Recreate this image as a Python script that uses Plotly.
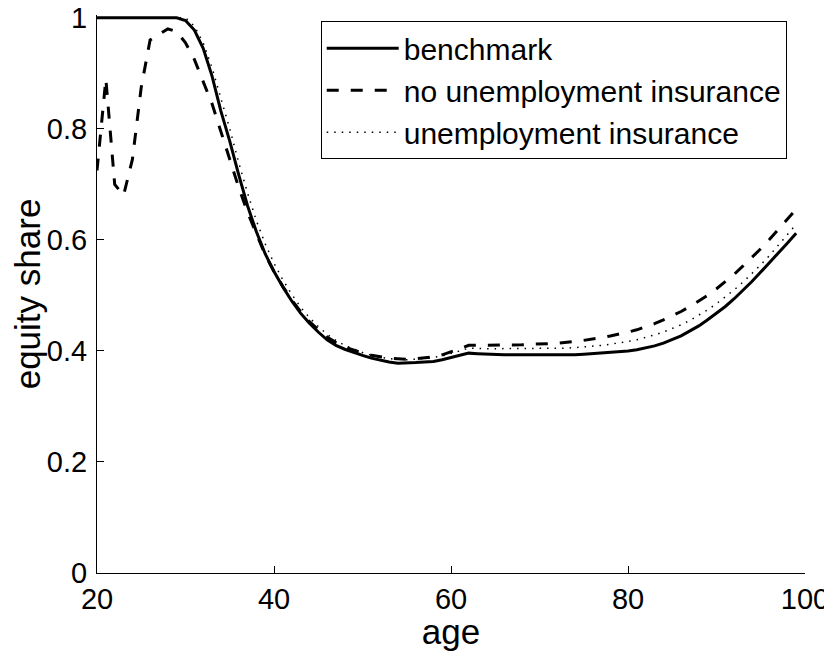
import plotly.graph_objects as go

ages = list(range(20, 100))

benchmark = [1.0, 1.0, 1.0, 1.0, 1.0, 1.0, 1.0, 1.0, 1.0, 1.0,
             0.995, 0.978, 0.945, 0.895, 0.832, 0.778, 0.718, 0.662, 0.615, 0.575,
             0.543, 0.515, 0.49, 0.468, 0.45, 0.434, 0.42, 0.41, 0.403, 0.397,
             0.392, 0.387, 0.383, 0.38, 0.378, 0.378, 0.379, 0.38, 0.381, 0.384,
             0.388, 0.392, 0.396, 0.395, 0.394, 0.394, 0.393, 0.393, 0.393, 0.392,
             0.392, 0.392, 0.392, 0.393, 0.393, 0.394, 0.395, 0.396, 0.397, 0.398,
             0.4, 0.402, 0.405, 0.409, 0.414, 0.42, 0.427, 0.436, 0.445, 0.456,
             0.468, 0.48, 0.494, 0.509, 0.525, 0.542, 0.559, 0.576, 0.594, 0.612]

no_ui = [0.725, 0.89, 0.70, 0.68, 0.745, 0.875, 0.96, 0.97, 0.98, 0.975,
         0.955, 0.925, 0.885, 0.845, 0.795, 0.745, 0.695, 0.65, 0.61, 0.573,
         0.543, 0.516, 0.492, 0.471, 0.453, 0.438, 0.425, 0.415, 0.407, 0.401,
         0.396, 0.392, 0.389, 0.387, 0.386, 0.385, 0.386, 0.387, 0.389, 0.393,
         0.398, 0.404, 0.41, 0.41, 0.41, 0.41, 0.41, 0.411, 0.411, 0.412,
         0.412, 0.413, 0.414, 0.415, 0.417, 0.419, 0.421, 0.424, 0.427, 0.43,
         0.434, 0.438, 0.443, 0.449, 0.456, 0.463, 0.471, 0.48, 0.49, 0.5,
         0.512, 0.525, 0.538, 0.553, 0.568, 0.584, 0.601, 0.619, 0.637, 0.655]

ui = [1.0, 1.0, 1.0, 1.0, 1.0, 1.0, 1.0, 1.0, 1.0, 1.0,
      1.0, 0.985, 0.955, 0.91, 0.855, 0.8, 0.74, 0.685, 0.635, 0.593,
      0.558, 0.528, 0.502, 0.479, 0.46, 0.444, 0.43, 0.419, 0.41, 0.403,
      0.397, 0.392, 0.389, 0.386, 0.385, 0.384, 0.385, 0.386, 0.388, 0.391,
      0.395, 0.4, 0.405, 0.404, 0.404, 0.404, 0.404, 0.404, 0.404, 0.404,
      0.404, 0.404, 0.404, 0.405, 0.406, 0.407, 0.408, 0.41, 0.412, 0.414,
      0.417, 0.42, 0.424, 0.429, 0.434, 0.44, 0.447, 0.455, 0.464, 0.474,
      0.485, 0.497, 0.51, 0.524, 0.539, 0.555, 0.572, 0.59, 0.609, 0.628]

names = ["benchmark", "no unemployment insurance", "unemployment insurance"]
x_ticks = [20, 40, 60, 80, 100]
y_ticks = [0, 0.2, 0.4, 0.6, 0.8, 1]
y_tick_text = ["0", "0.2", "0.4", "0.6", "0.8", "1"]

FONT = "Liberation Sans, Arial, Helvetica, sans-serif"
FS = 29

fig = go.Figure()
fig.add_trace(go.Scatter(x=ages, y=benchmark, mode="lines", name=names[0],
                         line=dict(color="black", width=3)))
fig.add_trace(go.Scatter(x=ages, y=no_ui, mode="lines", name=names[1],
                         line=dict(color="black", width=3, dash="12px,12px")))
fig.add_trace(go.Scatter(x=ages, y=ui, mode="lines", name=names[2],
                         line=dict(color="black", width=1.5, dash="1.5px,6px")))

fig.update_layout(
    width=824, height=643,
    margin=dict(l=89, r=27, t=7, b=78, autoexpand=False),
    paper_bgcolor="white", plot_bgcolor="white",
    font=dict(family=FONT, size=FS, color="black"),
    showlegend=True,
    legend=dict(x=0.316, y=0.989, xanchor="left", yanchor="top",
                bordercolor="black", borderwidth=1, bgcolor="white",
                font=dict(family=FONT, size=30, color="black"),
                itemwidth=72, tracegroupgap=0),
    xaxis=dict(range=[20, 100], tickvals=x_ticks, ticks="inside", ticklen=7,
               tickcolor="black", showline=True, linecolor="black", linewidth=1,
               showgrid=False, zeroline=False, mirror=False, automargin=False,
               ticklabeloverflow="allow",
               title=dict(text="age", standoff=2),
               tickfont=dict(size=FS)),
    yaxis=dict(range=[0, 1.005], tickvals=y_ticks, ticktext=y_tick_text,
               ticks="inside", ticklen=7, tickcolor="black",
               showline=True, linecolor="black", linewidth=1,
               showgrid=False, zeroline=False, mirror=False, automargin=False,
               ticklabelstandoff=3, ticklabeloverflow="allow",
               title=dict(text="equity share", standoff=0),
               tickfont=dict(size=FS)),
)

fig.write_html("out.html")
